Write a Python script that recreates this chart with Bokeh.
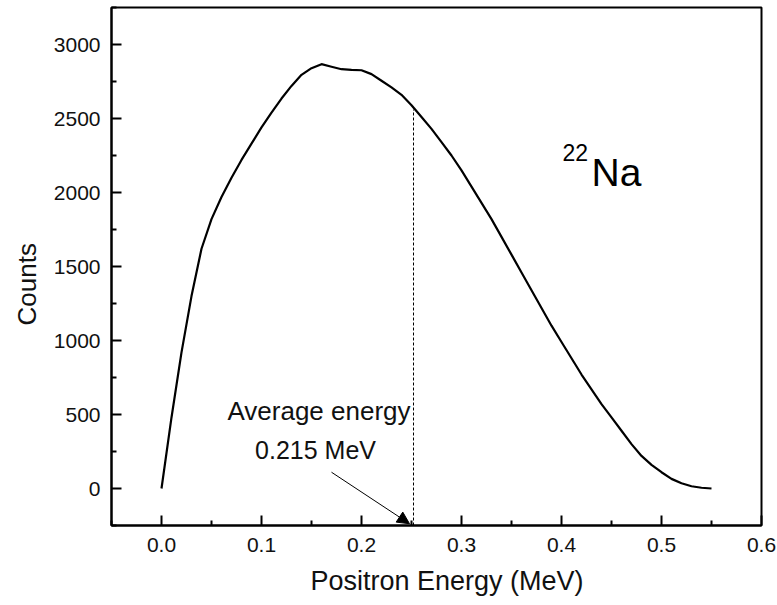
from bokeh.plotting import figure
from bokeh.models import FixedTicker, Arrow, NormalHead, Label, Title
from bokeh.embed import file_html
from bokeh.resources import INLINE

# ---- data ----
energy = [0.00, 0.01, 0.02, 0.03, 0.04, 0.05, 0.06, 0.07, 0.08, 0.09,
          0.10, 0.11, 0.12, 0.13, 0.14, 0.15, 0.16, 0.17, 0.18, 0.19,
          0.20, 0.21, 0.22, 0.23, 0.24, 0.25, 0.26, 0.27, 0.28, 0.29,
          0.30, 0.31, 0.32, 0.33, 0.34, 0.35, 0.36, 0.37, 0.38, 0.39,
          0.40, 0.41, 0.42, 0.43, 0.44, 0.45, 0.46, 0.47, 0.48, 0.49,
          0.50, 0.51, 0.52, 0.53, 0.54, 0.55]
counts = [0, 480, 920, 1300, 1620, 1820, 1970, 2100, 2220, 2330,
          2440, 2540, 2635, 2720, 2795, 2840, 2867, 2850, 2833, 2828,
          2826, 2800, 2755, 2710, 2660, 2590, 2510, 2430, 2340, 2250,
          2150, 2040, 1930, 1820, 1700, 1580, 1460, 1340, 1220, 1100,
          990, 880, 770, 670, 570, 480, 390, 300, 220, 160,
          110, 65, 35, 15, 5, 0]

avg_energy_marker = 0.252
avg_label_1 = "Average energy"
avg_label_2 = "0.215 MeV"
x_title = "Positron Energy (MeV)"
y_title = "Counts"
x_ticks = [0.0, 0.1, 0.2, 0.3, 0.4, 0.5, 0.6]
x_minor = [-0.05, 0.05, 0.15, 0.25, 0.35, 0.45, 0.55]
y_ticks = [0, 500, 1000, 1500, 2000, 2500, 3000]
y_minor = [-250, 250, 750, 1250, 1750, 2250, 2750, 3250]

FONT = "Liberation Sans"
TXT = "#111111"

p = figure(width=777, height=605, output_backend="svg", toolbar_location=None,
           x_range=(-0.05, 0.6), y_range=(-250, 3250),
           min_border_left=110, min_border_right=16, min_border_top=7,
           min_border_bottom=80)

p.grid.visible = False
p.outline_line_color = "black"
p.outline_line_width = 2
p.background_fill_color = "white"
p.border_fill_color = "white"

p.xaxis.ticker = FixedTicker(ticks=x_ticks, minor_ticks=x_minor)
p.yaxis.ticker = FixedTicker(ticks=y_ticks, minor_ticks=y_minor)
p.xaxis.major_label_overrides = {t: f"{t:.1f}" for t in x_ticks}

for ax in (p.xaxis[0], p.yaxis[0]):
    ax.axis_line_width = 2
    ax.axis_line_color = "black"
    ax.major_tick_in = 10
    ax.major_tick_out = 0
    ax.minor_tick_in = 5
    ax.minor_tick_out = 0
    ax.major_tick_line_width = 2
    ax.minor_tick_line_width = 2
    ax.major_label_text_font = FONT
    ax.major_label_text_font_size = "21px"
    ax.major_label_text_color = TXT

p.xaxis.major_label_standoff = 12
p.yaxis.major_label_standoff = 11

# axis titles as side titles, so they can be shifted like the reference
p.add_layout(Title(text=x_title, align="left", offset=199, standoff=18,
                   text_font=FONT, text_font_size="27px",
                   text_font_style="normal", text_color=TXT), "below")
p.add_layout(Title(text=y_title, align="left", offset=200, standoff=18,
                   text_font=FONT, text_font_size="26px",
                   text_font_style="normal", text_color=TXT), "left")

p.line(energy, counts, line_color="black", line_width=2.2)

# dashed vertical marker up to the curve
y_top = 2560
p.segment(x0=[avg_energy_marker], y0=[-250], x1=[avg_energy_marker], y1=[y_top],
          line_color="black", line_width=1, line_dash="3 2")

p.add_layout(Arrow(end=NormalHead(size=12, fill_color="black", line_color="black"),
                   x_start=0.170, y_start=110, x_end=0.248, y_end=-238,
                   line_color="black", line_width=1))

p.add_layout(Label(x=0.1575, y=527, text=avg_label_1, text_align="center",
                   text_baseline="alphabetic", text_font=FONT,
                   text_font_size="26px", text_color=TXT))
p.add_layout(Label(x=0.154, y=259, text=avg_label_2, text_align="center",
                   text_baseline="alphabetic", text_font=FONT,
                   text_font_size="25px", text_color=TXT))

p.add_layout(Label(x=0.401, y=2270, text="22", text_align="left",
                   text_baseline="alphabetic", text_font=FONT,
                   text_font_size="23px", text_color="black"))
p.add_layout(Label(x=0.430, y=2135, text="Na", text_align="left",
                   text_baseline="alphabetic", text_font=FONT,
                   text_font_size="39px", text_color="black"))

open("out.html", "w").write(file_html(p, INLINE))
